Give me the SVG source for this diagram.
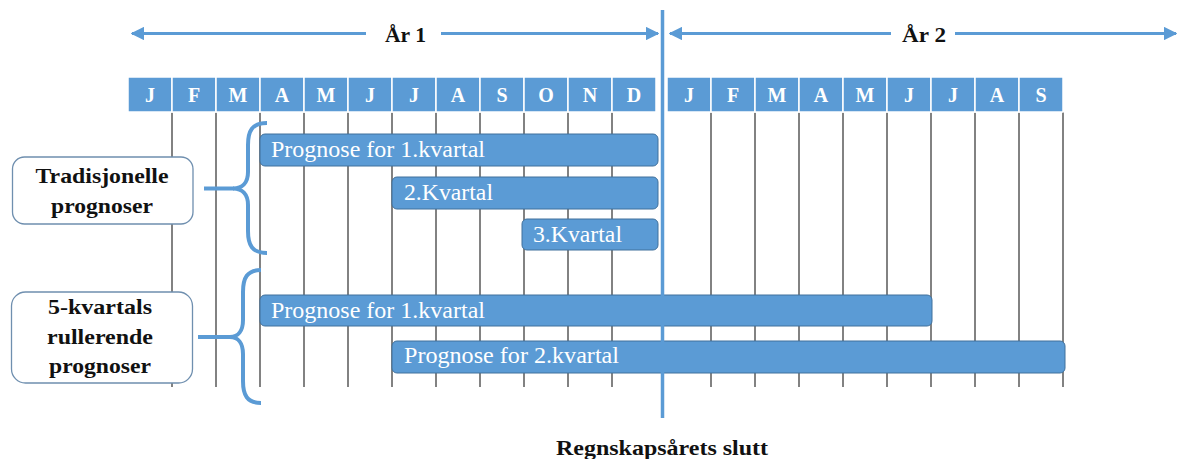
<svg xmlns="http://www.w3.org/2000/svg" width="1178" height="459" viewBox="0 0 1178 459">
<defs>
<style>
.hdr{fill:#5B9BD5;stroke:#ffffff;stroke-width:1.5}
.mt{font-family:"Liberation Serif","Times New Roman",serif;font-weight:bold;font-size:20px;fill:#ffffff;text-anchor:middle}
.grid{stroke:#595959;stroke-width:1.5}
.bar{fill:#5B9BD5;stroke:#41719C;stroke-width:1}
.bt{font-family:"Liberation Serif","Times New Roman",serif;font-size:22.5px;fill:#ffffff}
.lbl{fill:#ffffff;stroke:#6F8FAF;stroke-width:1.3}
.lt{font-family:"Liberation Serif","Times New Roman",serif;font-weight:bold;font-size:22px;fill:#111111;text-anchor:middle}
.yt{font-family:"Liberation Serif","Times New Roman",serif;font-weight:bold;font-size:21px;fill:#111111}
.blue{stroke:#5B9BD5;fill:none}
</style>
<marker id="ah" viewBox="0 0 10 10" refX="9" refY="5" markerWidth="4.5" markerHeight="4.5" orient="auto-start-reverse" markerUnits="strokeWidth">
<path d="M0,0 L10,5 L0,10 z" fill="#5B9BD5"/>
</marker>
</defs>
<rect width="1178" height="459" fill="#ffffff"/>

<g id="grid">
<line class="grid" x1="172" y1="112" x2="172" y2="387"/>
<line class="grid" x1="216" y1="112" x2="216" y2="387"/>
<line class="grid" x1="260" y1="112" x2="260" y2="387"/>
<line class="grid" x1="304" y1="112" x2="304" y2="387"/>
<line class="grid" x1="348" y1="112" x2="348" y2="387"/>
<line class="grid" x1="392" y1="112" x2="392" y2="387"/>
<line class="grid" x1="436" y1="112" x2="436" y2="387"/>
<line class="grid" x1="480" y1="112" x2="480" y2="387"/>
<line class="grid" x1="524" y1="112" x2="524" y2="387"/>
<line class="grid" x1="568" y1="112" x2="568" y2="387"/>
<line class="grid" x1="612" y1="112" x2="612" y2="387"/>
<line class="grid" x1="711" y1="112" x2="711" y2="387"/>
<line class="grid" x1="755" y1="112" x2="755" y2="387"/>
<line class="grid" x1="799" y1="112" x2="799" y2="387"/>
<line class="grid" x1="843" y1="112" x2="843" y2="387"/>
<line class="grid" x1="887" y1="112" x2="887" y2="387"/>
<line class="grid" x1="931" y1="112" x2="931" y2="387"/>
<line class="grid" x1="975" y1="112" x2="975" y2="387"/>
<line class="grid" x1="1019" y1="112" x2="1019" y2="387"/>
<line class="grid" x1="1063" y1="112" x2="1063" y2="387"/>
</g>

<g id="header-year1">
<rect class="hdr" x="128" y="77" width="44" height="35"/><text class="mt" x="150" y="102">J</text>
<rect class="hdr" x="172" y="77" width="44" height="35"/><text class="mt" x="194" y="102">F</text>
<rect class="hdr" x="216" y="77" width="44" height="35"/><text class="mt" x="238" y="102">M</text>
<rect class="hdr" x="260" y="77" width="44" height="35"/><text class="mt" x="282" y="102">A</text>
<rect class="hdr" x="304" y="77" width="44" height="35"/><text class="mt" x="326" y="102">M</text>
<rect class="hdr" x="348" y="77" width="44" height="35"/><text class="mt" x="370" y="102">J</text>
<rect class="hdr" x="392" y="77" width="44" height="35"/><text class="mt" x="414" y="102">J</text>
<rect class="hdr" x="436" y="77" width="44" height="35"/><text class="mt" x="458" y="102">A</text>
<rect class="hdr" x="480" y="77" width="44" height="35"/><text class="mt" x="502" y="102">S</text>
<rect class="hdr" x="524" y="77" width="44" height="35"/><text class="mt" x="546" y="102">O</text>
<rect class="hdr" x="568" y="77" width="44" height="35"/><text class="mt" x="590" y="102">N</text>
<rect class="hdr" x="612" y="77" width="44" height="35"/><text class="mt" x="634" y="102">D</text>
</g>
<g id="header-year2">
<rect class="hdr" x="667" y="77" width="44" height="35"/><text class="mt" x="689" y="102">J</text>
<rect class="hdr" x="711" y="77" width="44" height="35"/><text class="mt" x="733" y="102">F</text>
<rect class="hdr" x="755" y="77" width="44" height="35"/><text class="mt" x="777" y="102">M</text>
<rect class="hdr" x="799" y="77" width="44" height="35"/><text class="mt" x="821" y="102">A</text>
<rect class="hdr" x="843" y="77" width="44" height="35"/><text class="mt" x="865" y="102">M</text>
<rect class="hdr" x="887" y="77" width="44" height="35"/><text class="mt" x="909" y="102">J</text>
<rect class="hdr" x="931" y="77" width="44" height="35"/><text class="mt" x="953" y="102">J</text>
<rect class="hdr" x="975" y="77" width="44" height="35"/><text class="mt" x="997" y="102">A</text>
<rect class="hdr" x="1019" y="77" width="44" height="35"/><text class="mt" x="1041" y="102">S</text>
</g>

<g id="bar-trad-q1">
<rect class="bar" x="260" y="134" width="398" height="32" rx="5"/>
<text class="bt" x="271" y="157" textLength="214" lengthAdjust="spacingAndGlyphs">Prognose for 1.kvartal</text>
</g>
<g id="bar-trad-q2">
<rect class="bar" x="392" y="177" width="266" height="32" rx="5"/>
<text class="bt" x="404" y="200" textLength="89" lengthAdjust="spacingAndGlyphs">2.Kvartal</text>
</g>
<g id="bar-trad-q3">
<rect class="bar" x="522" y="219" width="136" height="31" rx="5"/>
<text class="bt" x="533" y="242" textLength="89" lengthAdjust="spacingAndGlyphs">3.Kvartal</text>
</g>
<g id="bar-roll-q1">
<rect class="bar" x="260" y="295" width="672" height="31" rx="5"/>
<text class="bt" x="271" y="318" textLength="214" lengthAdjust="spacingAndGlyphs">Prognose for 1.kvartal</text>
</g>
<g id="bar-roll-q2">
<rect class="bar" x="392" y="341" width="673" height="32" rx="5"/>
<text class="bt" x="404" y="363" textLength="215" lengthAdjust="spacingAndGlyphs">Prognose for 2.kvartal</text>
</g>

<g id="label-tradisjonelle">
<rect class="lbl" x="12.5" y="157" width="180.5" height="67" rx="12"/>
<text class="lt" x="102" y="183" textLength="133" lengthAdjust="spacingAndGlyphs">Tradisjonelle</text>
<text class="lt" x="102" y="213" textLength="102" lengthAdjust="spacingAndGlyphs">prognoser</text>
</g>
<g id="label-rullerende">
<rect class="lbl" x="11.5" y="292" width="181" height="91" rx="14"/>
<text class="lt" x="100" y="314" textLength="104" lengthAdjust="spacingAndGlyphs">5-kvartals</text>
<text class="lt" x="100" y="344" textLength="106" lengthAdjust="spacingAndGlyphs">rullerende</text>
<text class="lt" x="100" y="373" textLength="102" lengthAdjust="spacingAndGlyphs">prognoser</text>
</g>

<g id="year-labels">
<text class="yt" x="385" y="42" textLength="41" lengthAdjust="spacingAndGlyphs">År 1</text>
<text class="yt" x="902" y="42" textLength="44" lengthAdjust="spacingAndGlyphs">År 2</text>
</g>
<g id="fiscal-end-label">
<text class="yt" x="556" y="455" textLength="212" lengthAdjust="spacingAndGlyphs">Regnskapsårets slutt</text>
</g>

<g id="connectors">
<line class="blue" x1="662.5" y1="10" x2="662.5" y2="418" stroke-width="3.5"/>
<line class="blue" x1="132" y1="33.5" x2="366" y2="33.5" stroke-width="3" marker-start="url(#ah)"/>
<line class="blue" x1="441" y1="33.5" x2="658" y2="33.5" stroke-width="3" marker-end="url(#ah)"/>
<line class="blue" x1="670" y1="33.5" x2="891" y2="33.5" stroke-width="3" marker-start="url(#ah)"/>
<line class="blue" x1="955" y1="33.5" x2="1176" y2="33.5" stroke-width="3" marker-end="url(#ah)"/>
<path class="blue" stroke-width="4" d="M267,123 C252,123 248,131 248,145 L248,172 C248,183 242,188.5 233,188.5 C242,188.5 248,194 248,205 L248,231 C248,245 252,253 267,253"/>
<line class="blue" stroke-width="4" x1="204" y1="188.5" x2="234" y2="188.5"/>
<path class="blue" stroke-width="4" d="M261,270 C247,270 243,278 243,292 L243,320 C243,331 238,337 230,337 C238,337 243,343 243,354 L243,381 C243,395 247,403 261,403"/>
<line class="blue" stroke-width="4" x1="198" y1="337" x2="231" y2="337"/>
</g>
</svg>
